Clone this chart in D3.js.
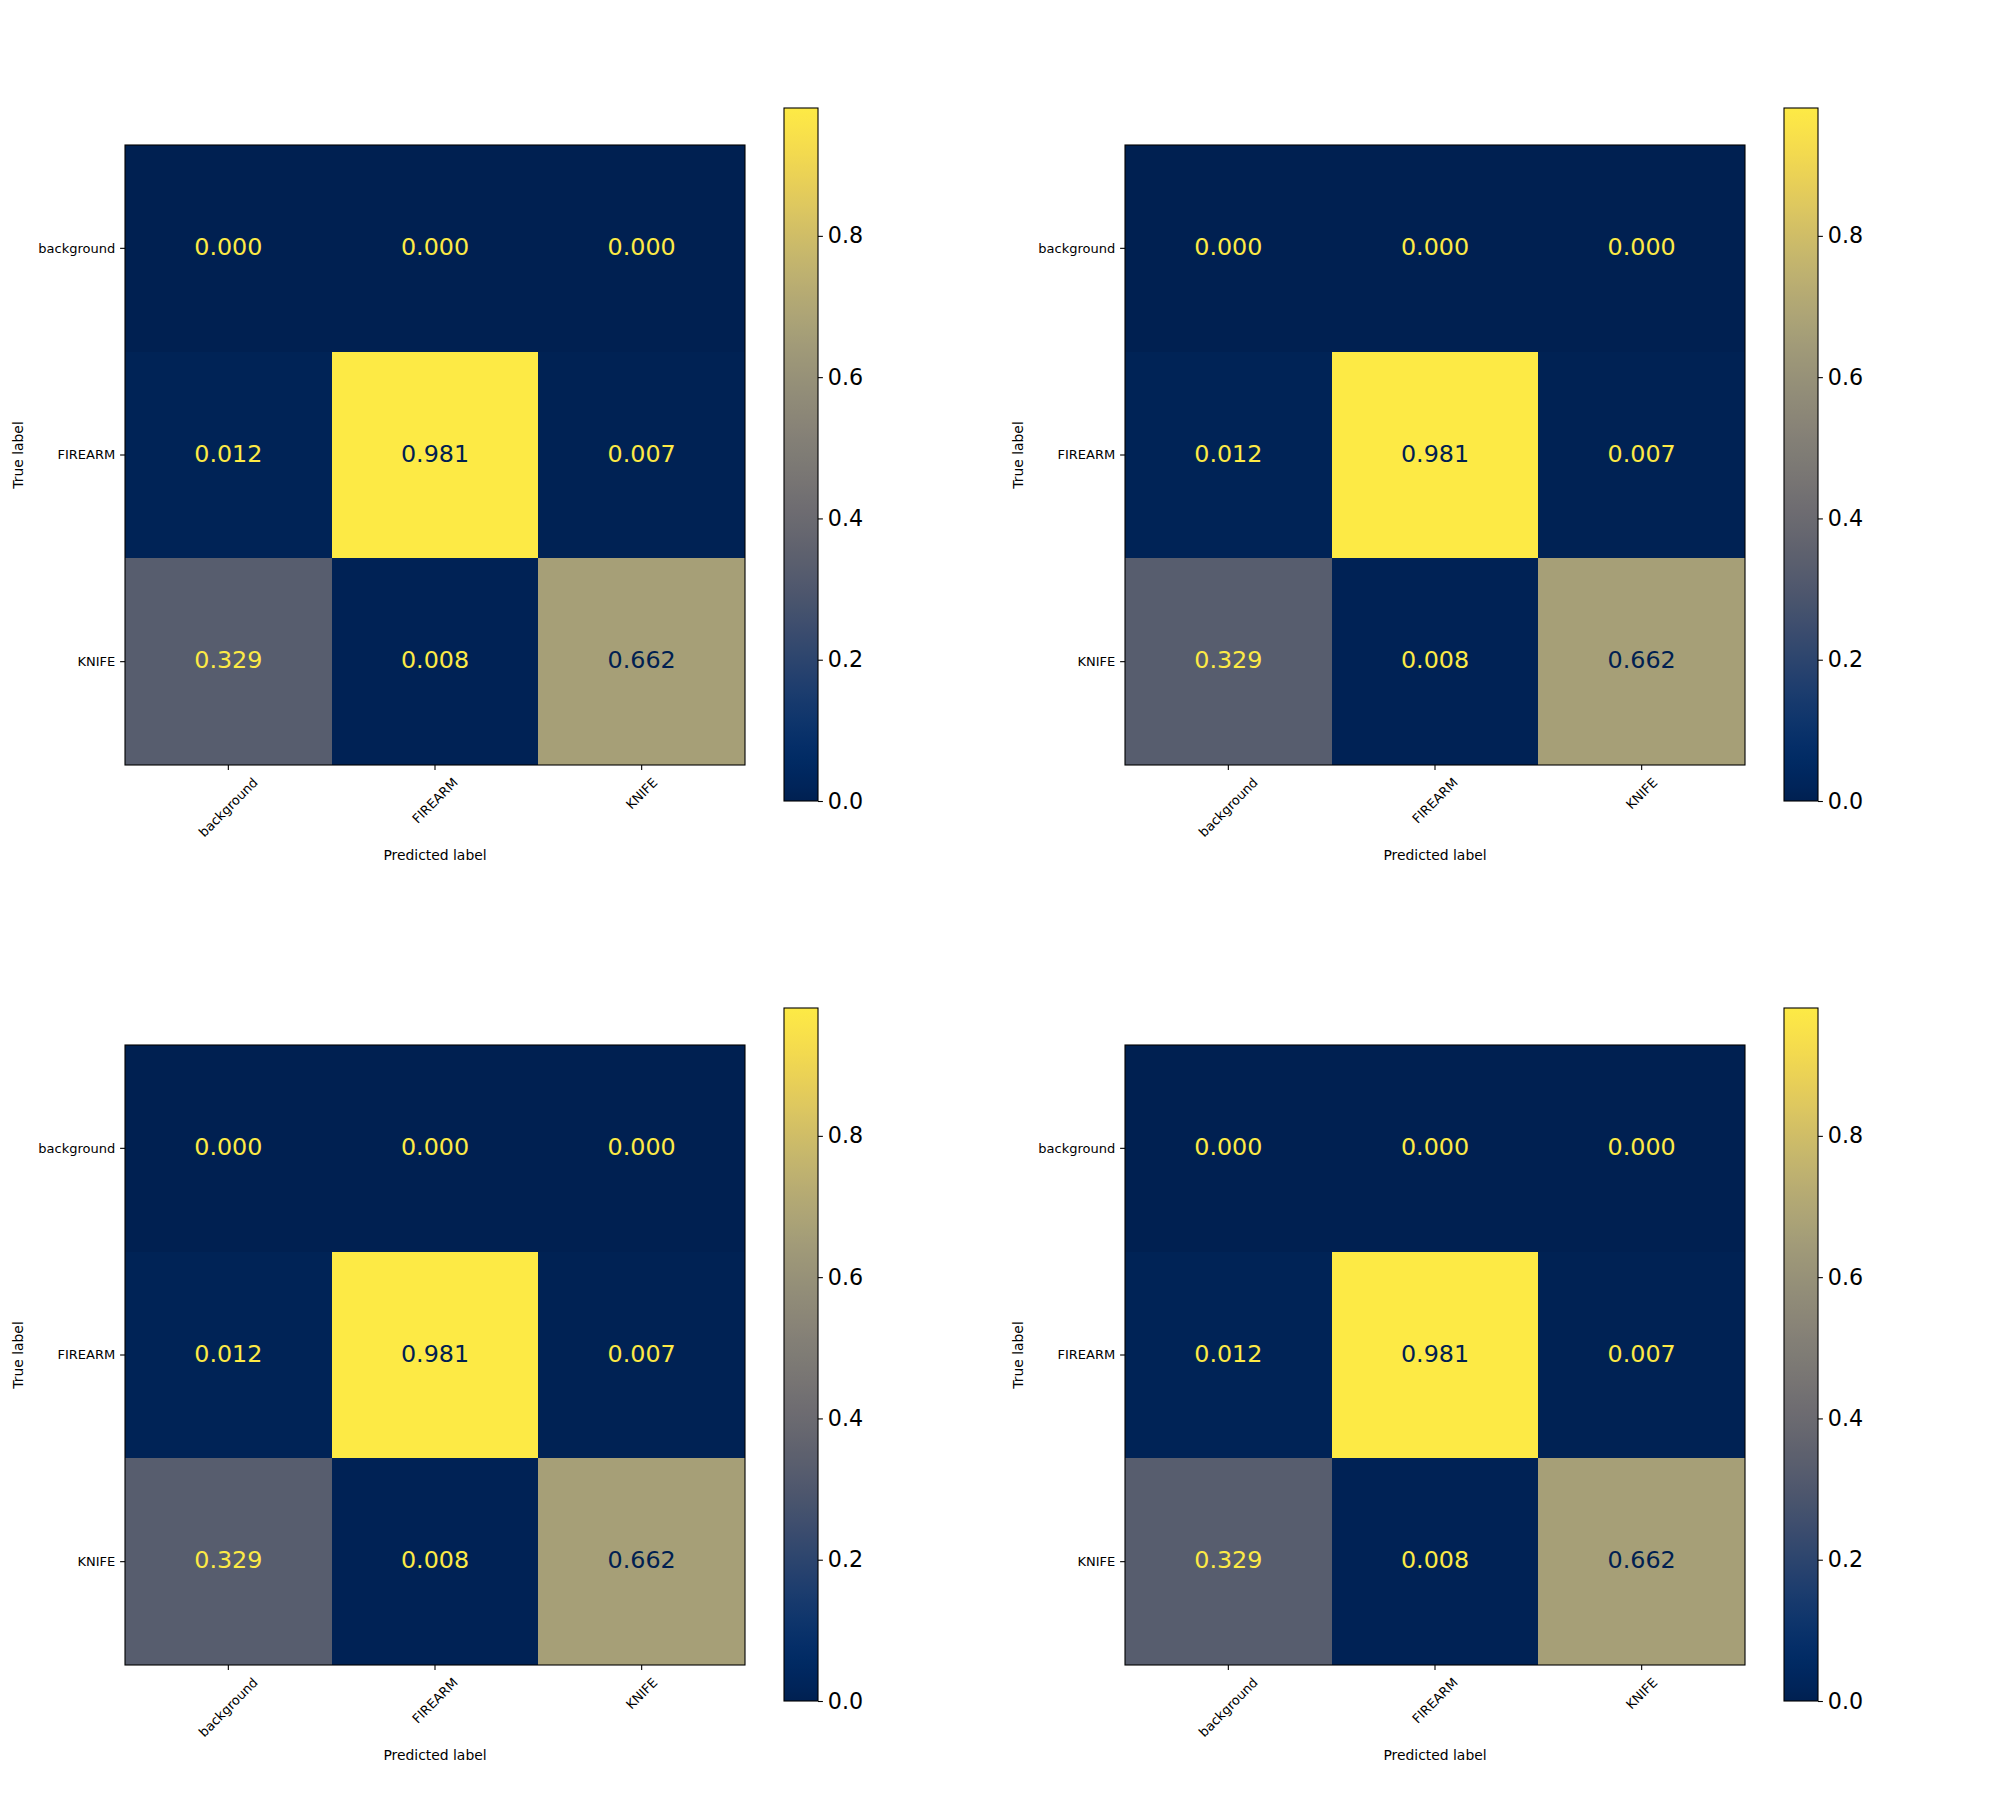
<!DOCTYPE html>
<html>
<head>
<meta charset="utf-8">
<script src="https://cdn.jsdelivr.net/npm/d3@7"></script>
<style>
  body { margin: 0; background: #fff; }
  svg { font-family: "DejaVu Sans", sans-serif; }
</style>
</head>
<body>
<div id="chart"></div>
<script>
// data
const classNames = ["background", "FIREARM", "KNIFE"];
const rowBackground = [0.000, 0.000, 0.000];
const rowFirearm = [0.012, 0.981, 0.007];
const rowKnife = [0.329, 0.008, 0.662];
const colorbarTicks = [0.0, 0.2, 0.4, 0.6, 0.8];
const panelGrid = [[0, 0], [1, 0], [0, 1], [1, 1]]; // [col, row]

const matrix = [rowBackground, rowFirearm, rowKnife];

const width = 2000, height = 1800;
const side = 620;
const tickLen = 4.9, tickPad = 4.9;

const svg = d3.select("#chart").append("svg")
    .attr("width", width)
    .attr("height", height);

const defs = svg.append("defs");

let flat = matrix.flat();
let vmin = d3.min(flat), vmax = d3.max(flat);

let color = d3.scaleSequential(d3.interpolateCividis).domain([vmin, vmax]);

// colorbar gradient
let grad = defs.append("linearGradient")
    .attr("id", "cbgrad")
    .attr("x1", 0).attr("y1", 1).attr("x2", 0).attr("y2", 0);
d3.range(0, 1.0001, 0.02).forEach(t => {
    grad.append("stop")
        .attr("offset", t)
        .attr("stop-color", d3.interpolateCividis(t));
});

const drawPanel = (col, row) => {
    let x0 = 125 + 1000 * col;
    let y0 = 145 + 900 * row;

    const g = svg.append("g").attr("transform", `translate(${x0},${y0})`);

    let x = d3.scaleBand().domain(classNames).range([0, side]);
    let y = d3.scaleBand().domain(classNames).range([0, side]);

    // cells
    matrix.forEach((r, i) => {
        r.forEach((v, j) => {
            g.append("rect")
                .attr("x", x(classNames[j]))
                .attr("y", y(classNames[i]))
                .attr("width", x.bandwidth())
                .attr("height", y.bandwidth())
                .attr("fill", color(v))
                .attr("shape-rendering", "crispEdges");
        });
    });

    // cell values
    let thresh = (vmax + vmin) / 2;
    matrix.forEach((r, i) => {
        r.forEach((v, j) => {
            g.append("text")
                .attr("x", x(classNames[j]) + x.bandwidth() / 2)
                .attr("y", y(classNames[i]) + y.bandwidth() / 2)
                .attr("dy", "0.28em")
                .attr("text-anchor", "middle")
                .attr("font-size", "23.8px")
                .attr("fill", v >= thresh ? d3.interpolateCividis(0) : d3.interpolateCividis(1))
                .text(v.toFixed(3));
        });
    });

    // frame
    g.append("rect")
        .attr("width", side).attr("height", side)
        .attr("fill", "none")
        .attr("stroke", "#000")
        .attr("stroke-width", 1.1);

    // y axis
    g.append("g")
        .call(d3.axisLeft(y).tickSize(tickLen).tickPadding(tickPad).tickSizeOuter(0))
        .call(a => a.select(".domain").remove())
        .call(a => a.selectAll("line").attr("stroke", "#000").attr("stroke-width", 1.1))
        .call(a => a.selectAll("text").attr("font-size", "13px").attr("fill", "#000")
            .attr("font-family", "DejaVu Sans"));

    // x axis, labels rotated 45 with centered bbox
    let xa = g.append("g")
        .attr("transform", `translate(0,${side})`)
        .call(d3.axisBottom(x).tickSize(tickLen).tickSizeOuter(0))
        .call(a => a.select(".domain").remove())
        .call(a => a.selectAll("line").attr("stroke", "#000").attr("stroke-width", 1.1));
    xa.selectAll(".tick text").remove();
    let maxBox = 0;
    xa.selectAll(".tick").each(function(d) {
        const t = d3.select(this).append("text")
            .attr("font-size", "13px")
            .attr("font-family", "DejaVu Sans")
            .attr("fill", "#000")
            .attr("text-anchor", "middle")
            .attr("dominant-baseline", "central")
            .text(d);
        let w = t.node().getComputedTextLength();
        let h = 13 * 1.17;
        let box = (w + h) * Math.SQRT1_2;
        maxBox = Math.max(maxBox, box);
        t.attr("transform", `translate(0,${tickLen + tickPad + box / 2}) rotate(-45)`);
    });

    // axis titles
    g.append("text")
        .attr("x", side / 2)
        .attr("y", side + tickLen + tickPad + maxBox + 15)
        .attr("text-anchor", "middle")
        .attr("dominant-baseline", "central")
        .attr("font-size", "13.9px")
        .text("Predicted label");

    g.append("text")
        .attr("transform", `translate(${18 - 125},${side / 2}) rotate(-90)`)
        .attr("text-anchor", "middle")
        .attr("dominant-baseline", "central")
        .attr("font-size", "13.9px")
        .text("True label");

    // colorbar
    let cbX = 659, cbW = 34, cbTop = -37, cbBottom = 656;
    let cb = d3.scaleLinear().domain([vmin, vmax]).range([cbBottom, cbTop]);

    g.append("rect")
        .attr("x", cbX).attr("y", cbTop)
        .attr("width", cbW).attr("height", cbBottom - cbTop)
        .attr("fill", "url(#cbgrad)")
        .attr("stroke", "#000")
        .attr("stroke-width", 1.1);

    g.append("g")
        .attr("transform", `translate(${cbX + cbW},0)`)
        .call(d3.axisRight(cb).tickValues(colorbarTicks).tickSize(tickLen).tickPadding(tickPad)
            .tickFormat(d3.format(".1f")).tickSizeOuter(0))
        .call(a => a.select(".domain").remove())
        .call(a => a.selectAll("line").attr("stroke", "#000").attr("stroke-width", 1.1))
        .call(a => a.selectAll("text").attr("font-size", "22.2px").attr("fill", "#000")
            .attr("font-family", "DejaVu Sans"));
};

panelGrid.forEach(([c, r]) => drawPanel(c, r));
</script>
</body>
</html>
